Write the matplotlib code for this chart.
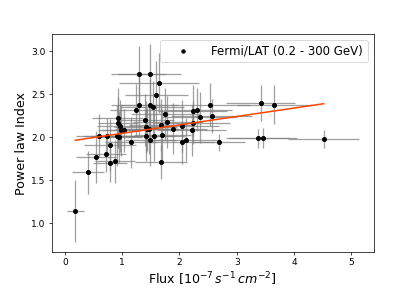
import numpy as np
import matplotlib.pyplot as plt

# Fermi/LAT flux vs photon index
flux = [0.18, 0.40, 0.54, 0.60, 0.73, 0.71, 0.79, 0.79, 0.88, 0.90,
        0.94, 0.92, 0.92, 0.96, 1.03, 0.98, 1.15, 1.24, 1.30, 1.29,
        1.48, 1.64, 1.59, 1.48, 1.53, 1.40, 1.41, 1.47, 1.43, 1.42,
        1.49, 1.55, 1.75, 1.67, 1.70, 1.68, 1.79, 1.88, 2.04, 2.05,
        2.11, 2.21, 2.23, 2.23, 2.31, 2.35, 2.54, 2.56, 2.69, 3.37,
        3.46, 3.42, 3.66, 4.52]
flux_err = [0.15, 0.28, 0.35, 0.40, 0.42, 0.35, 0.30, 0.45, 0.35, 0.45,
            0.40, 0.45, 0.35, 0.40, 0.45, 0.35, 0.45, 0.45, 0.50, 0.48,
            0.55, 0.70, 0.55, 0.50, 0.55, 0.50, 0.55, 0.50, 0.55, 0.50,
            0.45, 0.55, 0.60, 0.55, 0.50, 0.45, 0.60, 0.60, 0.65, 0.55,
            0.60, 0.60, 0.65, 0.60, 0.60, 0.65, 0.70, 0.70, 0.45, 0.55,
            0.60, 0.60, 0.65, 0.62]
index = [1.14, 1.59, 1.77, 2.02, 2.02, 1.80, 1.70, 1.91, 1.72, 2.02,
         2.00, 2.22, 2.17, 2.13, 2.08, 2.08, 1.94, 2.32, 2.38, 2.73,
         2.74, 2.63, 2.49, 2.38, 2.35, 2.20, 2.12, 2.10, 2.09, 2.02,
         1.97, 2.02, 2.27, 2.14, 2.03, 1.71, 2.18, 2.10, 2.13, 1.94,
         1.97, 2.08, 2.17, 2.31, 2.32, 2.23, 2.38, 2.25, 1.94, 1.99,
         1.99, 2.40, 2.38, 1.98]
index_err = [0.36, 0.25, 0.30, 0.25, 0.20, 0.20, 0.22, 0.30, 0.25, 0.35,
             0.30, 0.35, 0.30, 0.30, 0.25, 0.30, 0.30, 0.30, 0.35, 0.33,
             0.34, 0.35, 0.40, 0.30, 0.30, 0.30, 0.30, 0.30, 0.25, 0.30,
             0.30, 0.30, 0.30, 0.30, 0.30, 0.20, 0.30, 0.30, 0.30, 0.25,
             0.25, 0.30, 0.25, 0.30, 0.25, 0.30, 0.25, 0.20, 0.10, 0.11,
             0.12, 0.21, 0.23, 0.10]

# linear trend drawn across the data range
fit_x = [0.18, 4.52]
fit_y = [1.965, 2.39]

dpi = 65
fig = plt.figure(figsize=(415 / dpi, 291 / dpi), dpi=dpi)
ax = fig.add_subplot(111)
fig.subplots_adjust(left=0.125, right=0.9, top=0.883, bottom=0.134)

ax.errorbar(flux, index, xerr=flux_err, yerr=index_err, fmt='none',
            ecolor='gray', elinewidth=1.4, alpha=0.75)
# dots on top of the bars
ax.plot(flux, index, 'o', color='black', ms=4.5,
        label='Fermi/LAT (0.2 - 300 GeV)')
ax.plot(fit_x, fit_y, color='orangered', lw=1.7)

ax.set_xlim(-0.23, 5.39)
ax.set_ylim(0.665, 3.2)
ax.set_xticks([0, 1, 2, 3, 4, 5])
ax.set_yticks([1.0, 1.5, 2.0, 2.5, 3.0])
ax.set_xlabel(r'Flux [$10^{-7}\,s^{-1}\,cm^{-2}$]', fontsize=14)
ax.set_ylabel('Power law Index', fontsize=14)
ax.legend(loc='upper right', fontsize=13, handlelength=3.2, markerscale=0.85)

fig.savefig('out.png', dpi=dpi)
